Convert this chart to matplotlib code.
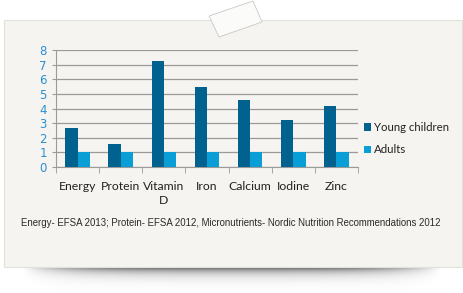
import matplotlib.pyplot as plt
import numpy as np
from matplotlib.patches import Rectangle, Polygon

# data
kategorier = ["Energy", "Protein", "Vitamin\nD", "Iron", "Calcium", "Iodine", "Zinc"]
young_children = [2.7, 1.55, 7.25, 5.45, 4.6, 3.2, 4.2]
adults = [1, 1, 1, 1, 1, 1, 1]
serier = ["Young children", "Adults"]
kilde = "Energy- EFSA 2013; Protein- EFSA 2012, Micronutrients- Nordic Nutrition Recommendations 2012"

W, H = 464, 293
fig = plt.figure(figsize=(W / 100, H / 100), dpi=100)
fig.patch.set_facecolor("white")

# bakgrunn: kort, skygge og tape (piksel-koordinater)
bg = fig.add_axes([0, 0, 1, 1])
bg.set_xlim(0, W)
bg.set_ylim(H, 0)
bg.axis("off")

xs = np.linspace(0, W, 300)
ys = np.linspace(262, 293, 60)
X, Y = np.meshgrid(xs, ys)
profil = np.clip(1 - np.abs((X - 232) / 210) ** 4, 0, 1)
fall = np.exp(-np.clip(Y - 266, 0, None) / 5.5)
skygge = 0.8 * profil * fall
rgba = np.zeros(X.shape + (4,))
rgba[..., 3] = skygge
bg.imshow(rgba, extent=(0, W, 293, 262), aspect="auto", zorder=1)

bg.add_patch(Rectangle((4, 20), 458, 247, facecolor="#f5f4f0", edgecolor="#e2e2dc",
                       linewidth=0.8, zorder=2))
bg.add_patch(Polygon([(209, 16), (253, 1), (262, 22), (219, 37)], closed=True,
                     facecolor="#fbfbfa", edgecolor="#c8c8c8", linewidth=0.6, zorder=3))

# diagram
ax = fig.add_axes([56 / W, 1 - 167 / H, (358 - 56) / W, (167 - 50) / H])
ax.set_facecolor("none")
x = np.arange(len(kategorier))
b = 0.285
ax.bar(x - b / 2, young_children, b, color="#01628f", label=serier[0], zorder=3)
ax.bar(x + b / 2, adults, b, color="#0a9ed6", label=serier[1], zorder=3)

ax.set_xlim(-0.5, len(kategorier) - 0.5)
ax.set_ylim(0, 8)
ax.set_yticks(range(0, 9))
ax.yaxis.grid(True, color="#9a9a9a", linewidth=0.9, zorder=0)
for s in ["top", "right"]:
    ax.spines[s].set_visible(False)
ax.spines["left"].set_color("#9a9a9a")
ax.spines["bottom"].set_color("#9a9a9a")
ax.tick_params(axis="y", colors="#9a9a9a", labelcolor="#2a8fd2", labelsize=8.5, length=3)

ax.set_xticks(x)
ax.set_xticklabels(kategorier, fontsize=8.8, color="#222222", family="Lato", linespacing=1.4)
ax.set_xticks(np.arange(-0.5, len(kategorier), 1), minor=True)
ax.tick_params(axis="x", which="major", length=0, pad=10)
ax.tick_params(axis="x", which="minor", length=4, color="#9a9a9a")
for t in ax.get_xticklabels():
    t.set_verticalalignment("top")

fig.legend(loc="upper left", bbox_to_anchor=(364 / W, 1 - 122 / H), frameon=False,
           prop={"family": "Lato", "size": 8.2}, handlelength=0.65, handleheight=0.65,
           handletextpad=0.25, labelspacing=1.0, labelcolor="#222222",
           borderpad=0, borderaxespad=0)

fig.text(21 / W, 1 - 223 / H, kilde, fontsize=6.9, color="#2a2a2a",
         family="Liberation Sans", va="center", ha="left")

plt.savefig("out.png", dpi=100)
